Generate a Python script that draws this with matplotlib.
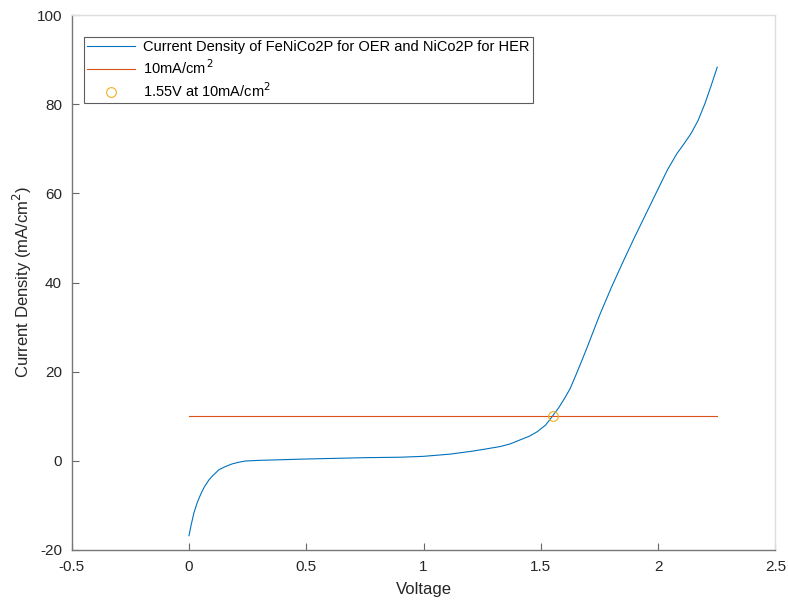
import matplotlib.pyplot as plt
import numpy as np

plt.rcParams['font.family'] = ['Liberation Sans', 'DejaVu Sans']
plt.rcParams['axes.unicode_minus'] = False

# polarisation curve, full cell (FeNiCo2P anode / NiCo2P cathode)
voltage = [0.00, 0.01, 0.021, 0.035, 0.05, 0.065, 0.085, 0.10, 0.128, 0.155,
           0.184, 0.21, 0.24, 0.30, 0.50, 0.75, 0.90, 1.00, 1.114, 1.20,
           1.26, 1.327, 1.37, 1.412, 1.45, 1.484, 1.52, 1.548, 1.575, 1.60,
           1.625, 1.65, 1.675, 1.70, 1.75, 1.80, 1.85, 1.90, 1.95, 2.00,
           2.04, 2.08, 2.11, 2.14, 2.17, 2.20, 2.225, 2.252]
current = [-16.8, -14.2, -11.7, -9.4, -7.5, -5.9, -4.3, -3.4, -2.0, -1.3,
           -0.7, -0.35, -0.05, 0.1, 0.4, 0.7, 0.8, 1.0, 1.5, 2.1,
           2.6, 3.2, 3.8, 4.7, 5.5, 6.5, 8.0, 9.9, 11.8, 13.9,
           16.2, 19.3, 22.5, 25.8, 32.6, 38.8, 44.6, 50.2, 55.6, 61.0,
           65.3, 68.9, 71.1, 73.4, 76.3, 80.2, 84.0, 88.3]

ref_current = 10          # mA/cm^2 benchmark
ref_voltage = 1.55        # cell voltage at the benchmark

fig = plt.figure(figsize=(7.88, 6.03), dpi=100)
ax = fig.add_axes([0.091, 0.088, 0.893, 0.887])

ax.plot(voltage, current, color='#0072BD', linewidth=0.8,
        label='Current Density of FeNiCo2P for OER and NiCo2P for HER')
ax.plot([voltage[0], voltage[-1]], [ref_current, ref_current], color='#D95319',
        linewidth=0.8, label='10mA/cm$^{\\,2}$')
ax.plot([ref_voltage], [ref_current], 'o', markerfacecolor='none',
        markeredgecolor='#EDB120', markersize=7, markeredgewidth=0.8,
        label='1.55V at 10mA/cm$^{2}$')

ax.set_xlim(-0.5, 2.5)
ax.set_ylim(-20, 100)
ax.set_xticks(np.arange(-0.5, 2.51, 0.5))
ax.set_xticklabels(['-0.5', '0', '0.5', '1', '1.5', '2', '2.5'])
ax.set_yticks(np.arange(-20, 101, 20))

ax.tick_params(direction='in', length=5, width=0.8, color='#666666',
               labelsize=11, labelcolor='#262626', pad=7)
for side in ['left', 'bottom']:
    ax.spines[side].set_color('#777777')
    ax.spines[side].set_linewidth(1.0)
for side in ['top', 'right']:
    ax.spines[side].set_color('#dddddd')
    ax.spines[side].set_linewidth(1.0)

ax.set_xlabel('Voltage', fontsize=12, color='#262626', labelpad=6)
ax.set_ylabel('Current Density (mA/cm$^2$)', fontsize=12, color='#262626',
              labelpad=2)

leg = ax.legend(loc='upper left', bbox_to_anchor=(0.017, 0.959),
                borderaxespad=0, fontsize=10.5, frameon=True, fancybox=False,
                edgecolor='#333333', handlelength=3.3, handletextpad=0.6,
                labelspacing=0.3, borderpad=0.2)
leg.get_frame().set_linewidth(0.8)

fig.savefig('out.png', dpi=100)
